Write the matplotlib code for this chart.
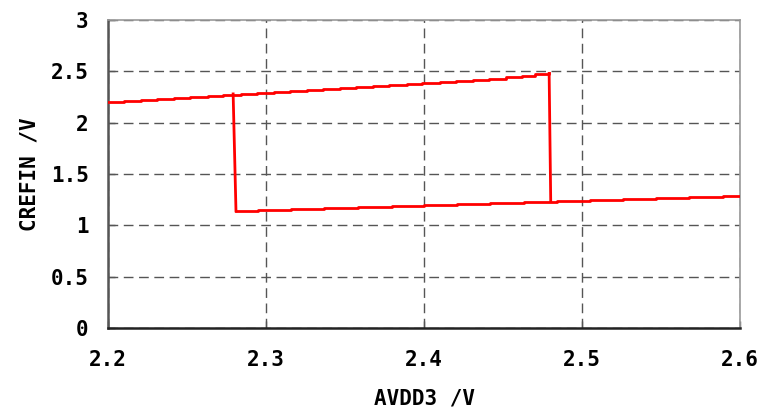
import matplotlib
matplotlib.use("Agg")
import matplotlib.pyplot as plt

# upper branch (sweep up), steps of ~0.01 V
upper_x = [2.200, 2.210, 2.221, 2.231, 2.242, 2.252, 2.263, 2.273, 2.284, 2.294,
           2.305, 2.315, 2.326, 2.336, 2.347, 2.357, 2.368, 2.378, 2.389, 2.399,
           2.410, 2.420, 2.431, 2.441, 2.452, 2.462, 2.470, 2.479]
upper_y = [2.20, 2.21, 2.22, 2.23, 2.24, 2.25, 2.26, 2.27, 2.28, 2.29,
           2.30, 2.31, 2.32, 2.33, 2.34, 2.35, 2.36, 2.37, 2.38, 2.39,
           2.40, 2.41, 2.42, 2.43, 2.44, 2.45, 2.47, 2.48]

# lower branch, steps of ~0.02 V
lower_x = [2.281, 2.295, 2.316, 2.337, 2.358, 2.380, 2.400, 2.421, 2.442, 2.463,
           2.484, 2.505, 2.526, 2.547, 2.568, 2.589, 2.600]
lower_y = [1.14, 1.15, 1.16, 1.17, 1.18, 1.19, 1.20, 1.21, 1.22, 1.23,
           1.24, 1.25, 1.26, 1.27, 1.28, 1.29, 1.29]

# jumps between the branches
jump_lo_x = [2.2792, 2.2810]
jump_lo_y = [2.28, 1.14]
jump_hi_x = [2.4792, 2.4802]
jump_hi_y = [2.48, 1.24]

xticks = [2.2, 2.3, 2.4, 2.5, 2.6]
yticks = [0, 0.5, 1, 1.5, 2, 2.5, 3]

font = dict(family="DejaVu Sans Mono", weight="bold", size=15)

fig = plt.figure(figsize=(7.63, 4.07), dpi=100)
ax = fig.add_axes([108 / 763, 1 - 328 / 407, 632 / 763, 308 / 407])

red = "#ff0000"
ax.plot(upper_x, upper_y, color=red, lw=2, drawstyle="steps-post", zorder=3)
ax.plot(lower_x, lower_y, color=red, lw=2, drawstyle="steps-post", zorder=3)
ax.plot(jump_lo_x, jump_lo_y, color=red, lw=2, zorder=3)
ax.plot(jump_hi_x, jump_hi_y, color=red, lw=2, zorder=3)

ax.set_xlim(2.2, 2.6)
ax.set_ylim(0, 3)
ax.set_xticks(xticks)
ax.set_yticks(yticks)
ax.set_xticklabels(["%g" % v for v in xticks], fontdict=font)
ax.set_yticklabels(["%g" % v for v in yticks], fontdict=font)
ax.tick_params(axis="both", direction="in", length=5, width=1, color="#555555")
ax.tick_params(axis="x", pad=16)
ax.tick_params(axis="y", pad=14)

ax.grid(True, color="#555555", lw=1, linestyle=(0, (7, 4)))
ax.set_axisbelow(True)

for side in ["top", "right"]:
    ax.spines[side].set_color("#999999")
    ax.spines[side].set_linewidth(1.2)
ax.spines["left"].set_color("#555555")
ax.spines["left"].set_linewidth(1.8)
ax.spines["bottom"].set_color("#222222")
ax.spines["bottom"].set_linewidth(1.8)

ax.set_xlabel("AVDD3 /V", fontdict=font, labelpad=13)
ax.set_ylabel("CREFIN /V", fontdict=font, labelpad=8)

fig.savefig("out.png", dpi=100)
